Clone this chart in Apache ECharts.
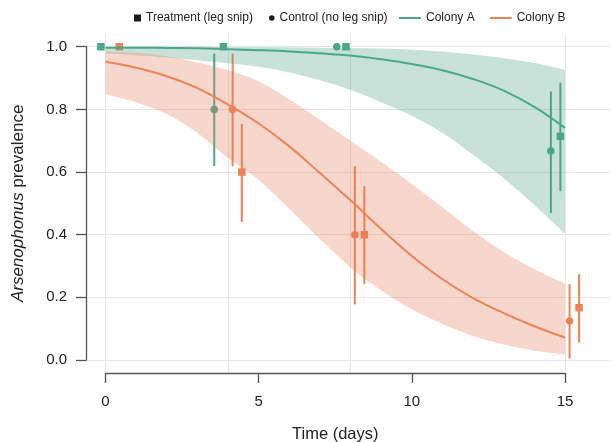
<!DOCTYPE html>
<html><head><meta charset="utf-8">
<script src="https://cdn.jsdelivr.net/npm/echarts@6/dist/echarts.min.js"></script>
<style>html,body{margin:0;padding:0;background:#fff}#c{width:612px;height:442px}</style>
</head><body><div id="c"></div>
<script>
// ---- data ----
const days = [0,1,2,3,4,5,6,7,8,9,10,11,12,13,14,15];
const lineA     = [0.997,0.997,0.996,0.995,0.992,0.989,0.985,0.979,0.972,0.960,0.945,0.925,0.897,0.860,0.808,0.741];
const bandALow  = [0.979,0.973,0.966,0.957,0.947,0.936,0.918,0.893,0.862,0.823,0.780,0.725,0.655,0.580,0.495,0.404];
const bandAHigh = [1.000,1.000,1.000,1.000,0.999,0.999,0.998,0.997,0.996,0.994,0.990,0.985,0.975,0.963,0.948,0.926];
const lineB     = [0.952,0.933,0.906,0.868,0.815,0.755,0.682,0.597,0.510,0.418,0.332,0.258,0.198,0.150,0.108,0.072];
const bandBLow  = [0.848,0.822,0.785,0.725,0.645,0.575,0.482,0.386,0.295,0.222,0.162,0.115,0.077,0.050,0.030,0.018];
const bandBHigh = [0.985,0.980,0.970,0.950,0.925,0.890,0.832,0.767,0.700,0.632,0.562,0.488,0.412,0.345,0.290,0.245];

const treatTimeA = [-0.15, 3.85, 7.85, 14.85];
const treatPrevA = [1.0, 1.0, 1.0, 0.714];
const treatLoA   = [null, null, null, 0.539];
const treatHiA   = [null, null, null, 0.885];
const ctrlTimeA  = [3.55, 7.55, 14.54];
const ctrlPrevA  = [0.8, 1.0, 0.667];
const ctrlLoA    = [0.619, null, 0.469];
const ctrlHiA    = [0.978, null, 0.857];

const treatTimeB = [0.45, 4.45, 8.45, 15.46];
const treatPrevB = [1.0, 0.6, 0.4, 0.167];
const treatLoB   = [null, 0.441, 0.242, 0.056];
const treatHiB   = [null, 0.753, 0.555, 0.274];
const ctrlTimeB  = [4.15, 8.14, 15.15];
const ctrlPrevB  = [0.8, 0.4, 0.125];
const ctrlLoB    = [0.619, 0.178, 0.005];
const ctrlHiB    = [0.978, 0.619, 0.242];

const gridDays = [0, 4, 8, 15];
const yTicks = [0, 0.2, 0.4, 0.6, 0.8, 1.0];

// ---- styling ----
const colA = '#4aa88a', colB = '#ee8258';
const ribA = '#4a9e84', ribB = '#e47a52';
const FONT = '"Liberation Sans", Arial, Helvetica, sans-serif';
const axisCol = '#555';

const pts = (xs, ys, c) => xs.map((x, i) => ({ value: [x, ys[i]], itemStyle: { color: c } }));
const bars = (xs, lo, hi, c) => xs.map((x, i) => lo[i] == null ? null : [x, lo[i], hi[i], c]).filter(Boolean);
const pair = (ys) => days.map((d, i) => [d, ys[i]]);

const errData = [].concat(
  bars(ctrlTimeA, ctrlLoA, ctrlHiA, 0), bars(treatTimeA, treatLoA, treatHiA, 0),
  bars(ctrlTimeB, ctrlLoB, ctrlHiB, 1), bars(treatTimeB, treatLoB, treatHiB, 1));

// smooth path (Catmull-Rom -> cubic bezier) through pixel points
function smoothSeg(p, startWithMove) {
  let s = (startWithMove ? 'M' : 'L') + p[0][0] + ' ' + p[0][1];
  for (let i = 0; i < p.length - 1; i++) {
    const p0 = p[Math.max(i - 1, 0)], p1 = p[i], p2 = p[i + 1], p3 = p[Math.min(i + 2, p.length - 1)];
    const c1 = [p1[0] + (p2[0] - p0[0]) / 6, p1[1] + (p2[1] - p0[1]) / 6];
    const c2 = [p2[0] - (p3[0] - p1[0]) / 6, p2[1] - (p3[1] - p1[1]) / 6];
    s += ' C' + c1[0] + ' ' + c1[1] + ' ' + c2[0] + ' ' + c2[1] + ' ' + p2[0] + ' ' + p2[1];
  }
  return s;
}
function bandSeries(name, lo, hi, color) {
  return {
    type: 'custom', name: name, xAxisIndex: 0, yAxisIndex: 0, z: 4, silent: true,
    encode: { x: 0, y: 1 },
    data: days.map((d, i) => [d, lo[i], hi[i]]),
    renderItem: function (params, api) {
      if (params.dataIndex !== 0) return null;
      const top = days.map((d, i) => api.coord([d, hi[i]]));
      const bot = days.map((d, i) => api.coord([d, lo[i]])).reverse();
      const path = smoothSeg(top, true) + ' ' + smoothSeg(bot, false) + ' Z';
      return { type: 'path', shape: { pathData: path }, style: { fill: color, opacity: 0.3, stroke: null } };
    }
  };
}

const chart = echarts.init(document.getElementById('c'), null, { renderer: 'canvas' });
const txt = { fontFamily: FONT, color: '#222' };

chart.setOption({
  animation: false,
  backgroundColor: '#fff',
  textStyle: { fontFamily: FONT },
  grid: [
    { left: 86, top: 34.2, width: 524, height: 338.4, outerBoundsMode: 'none', containLabel: false },
    { left: 86, top: 46.7, width: 1, height: 313.3, outerBoundsMode: 'none', containLabel: false },
    { left: 105.5, top: 372, width: 459.5, height: 1, outerBoundsMode: 'none', containLabel: false }
  ],
  xAxis: [
    { gridIndex: 0, type: 'value', min: -0.637, max: 16.47,
      axisLine: { show: false }, axisLabel: { show: false },
      axisTick: { show: false, customValues: gridDays },
      splitLine: { show: true, lineStyle: { color: '#e6e6e6', width: 1 } } },
    { gridIndex: 1, type: 'value', show: false, min: 0, max: 1 },
    { gridIndex: 2, type: 'value', min: 0, max: 15, interval: 5, position: 'bottom',
      axisLine: { show: true, onZero: false, lineStyle: { color: axisCol, width: 1.3 } },
      axisTick: { show: true, length: 10, lineStyle: { color: axisCol, width: 1.3 } },
      axisLabel: Object.assign({ margin: 21, fontSize: 15 }, txt),
      splitLine: { show: false },
      name: 'Time (days)', nameLocation: 'middle', nameGap: 53,
      nameTextStyle: Object.assign({ fontSize: 16.5 }, txt) }
  ],
  yAxis: [
    { gridIndex: 0, type: 'value', min: -0.04, max: 1.04,
      axisLine: { show: false }, axisLabel: { show: false },
      axisTick: { show: false, customValues: yTicks },
      splitLine: { show: true, lineStyle: { color: '#e6e6e6', width: 1 } } },
    { gridIndex: 1, type: 'value', min: 0, max: 1, interval: 0.2, position: 'left',
      axisLine: { show: true, onZero: false, lineStyle: { color: axisCol, width: 1.3 } },
      axisTick: { show: true, length: 10, lineStyle: { color: axisCol, width: 1.3 } },
      axisLabel: Object.assign({ margin: 19, fontSize: 15, formatter: v => v.toFixed(1) }, txt),
      splitLine: { show: false },
      name: '{i|Arsenophonus} prevalence', nameLocation: 'middle', nameGap: 59, nameRotate: 90,
      nameTextStyle: Object.assign({ fontSize: 17, rich: { i: { fontSize: 17, fontStyle: 'italic', fontFamily: FONT, color: '#222' } } }, txt) },
    { gridIndex: 2, type: 'value', show: false, min: 0, max: 1 }
  ],
  legend: [
    { left: 134, top: 12, padding: 0, itemWidth: 7, itemHeight: 7,
      data: [{ name: 'Treatment (leg snip)', icon: 'rect', itemStyle: { color: '#1a1a1a' } }],
      textStyle: Object.assign({ fontSize: 12 }, txt), selectedMode: false },
    { left: 269, top: 12, padding: 0, itemWidth: 5.5, itemHeight: 5.5,
      data: [{ name: 'Control (no leg snip)', icon: 'circle', itemStyle: { color: '#1a1a1a' } }],
      textStyle: Object.assign({ fontSize: 12 }, txt), selectedMode: false },
    { left: 399, top: 12, padding: 0, itemWidth: 22, itemHeight: 2, itemGap: 15,
      data: [{ name: 'Colony A', icon: 'rect' }, { name: 'Colony B', icon: 'rect' }],
      textStyle: Object.assign({ fontSize: 12 }, txt), selectedMode: false }
  ],
  series: [
    { type: 'custom', name: 'errorbars', xAxisIndex: 0, yAxisIndex: 0, z: 2,
      encode: { x: 0, y: [1, 2] }, data: errData, silent: true,
      renderItem: function (params, api) {
        const x = api.value(0);
        const p1 = api.coord([x, api.value(1)]);
        const p2 = api.coord([x, api.value(2)]);
        return { type: 'line', shape: { x1: p1[0], y1: p1[1], x2: p2[0], y2: p2[1] },
          style: { stroke: api.value(3) === 0 ? colA : colB, lineWidth: 2 } };
      } },
    { type: 'scatter', name: 'Treatment (leg snip)', xAxisIndex: 0, yAxisIndex: 0, z: 3,
      symbol: 'rect', symbolSize: 7.5, itemStyle: { color: '#1a1a1a', opacity: 1 },
      data: pts(treatTimeA, treatPrevA, colA).concat(pts(treatTimeB, treatPrevB, colB)) },
    { type: 'scatter', name: 'Control (no leg snip)', xAxisIndex: 0, yAxisIndex: 0, z: 3,
      symbol: 'circle', symbolSize: 7.5, itemStyle: { color: '#1a1a1a', opacity: 1 },
      data: pts(ctrlTimeA, ctrlPrevA, colA).concat(pts(ctrlTimeB, ctrlPrevB, colB)) },
    bandSeries('bandA', bandALow, bandAHigh, ribA),
    bandSeries('bandB', bandBLow, bandBHigh, ribB),
    { type: 'line', name: 'Colony A', xAxisIndex: 0, yAxisIndex: 0, z: 5,
      symbol: 'none', smooth: 0.4, itemStyle: { color: colA },
      lineStyle: { color: colA, width: 2 }, data: pair(lineA) },
    { type: 'line', name: 'Colony B', xAxisIndex: 0, yAxisIndex: 0, z: 5,
      symbol: 'none', smooth: 0.4, itemStyle: { color: colB },
      lineStyle: { color: colB, width: 2 }, data: pair(lineB) }
  ]
});
</script>
</body></html>
